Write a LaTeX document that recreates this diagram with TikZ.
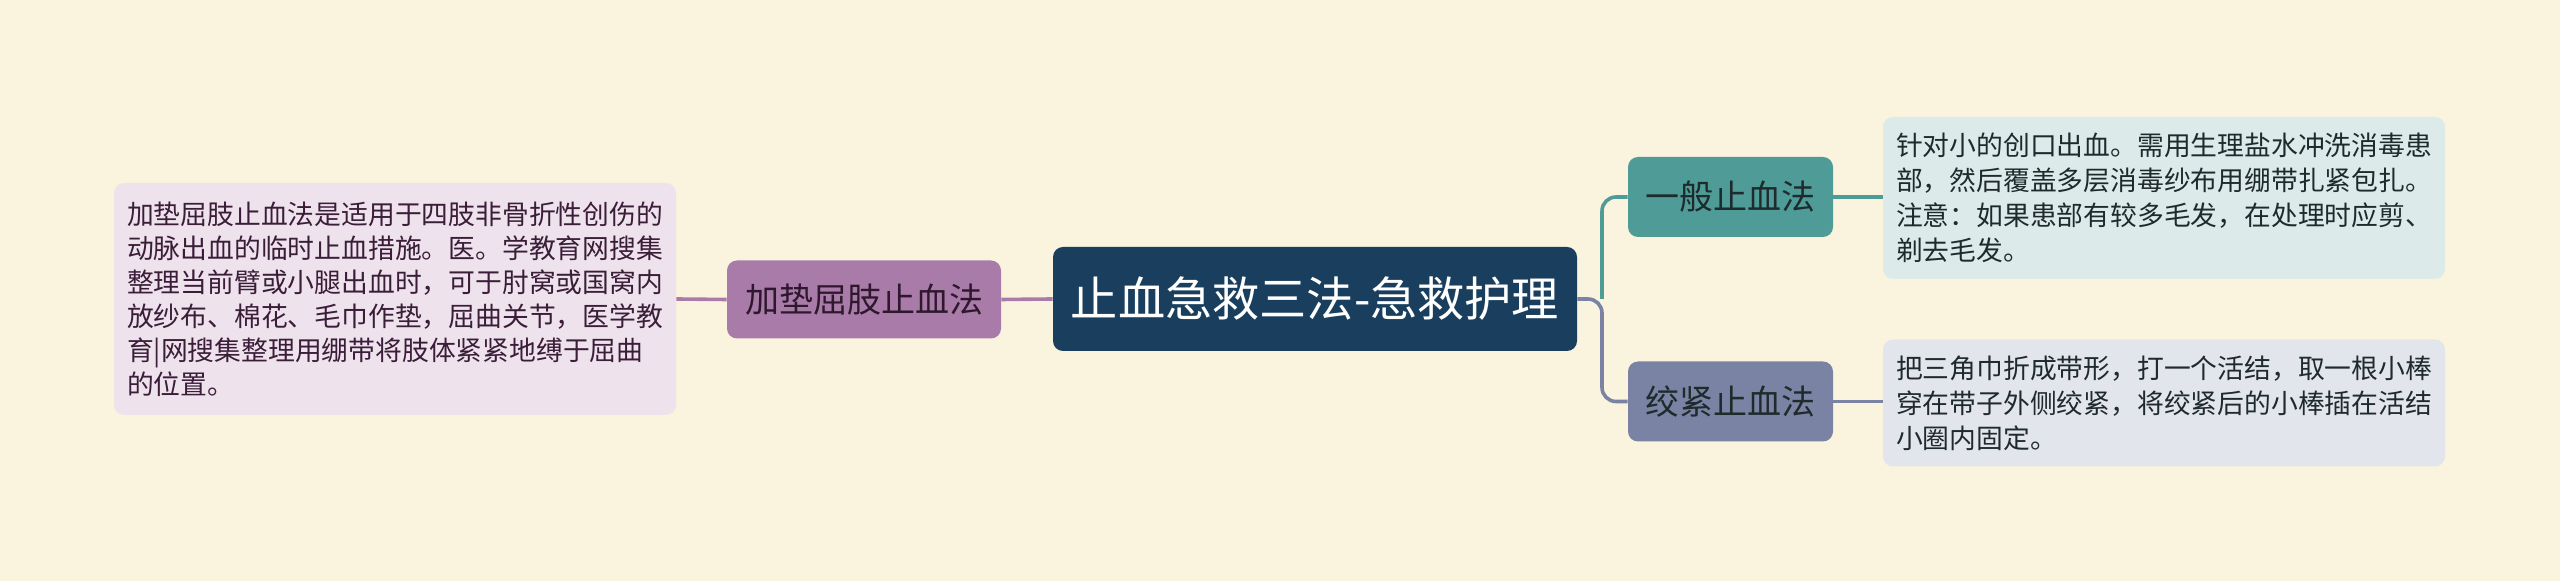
\documentclass[tikz,border=0pt]{standalone}
\usepackage{fontspec}
\newfontfamily\cjk{Noto Sans CJK SC}
\usetikzlibrary{positioning}
\definecolor{bgcream}{HTML}{FAF4DF}
\definecolor{navy}{HTML}{1A3F5E}
\definecolor{plum}{HTML}{A97BA9}
\definecolor{plumleaf}{HTML}{EEE3EC}
\definecolor{plumtext}{HTML}{3B1D39}
\definecolor{tealc}{HTML}{4E9B97}
\definecolor{tealleaf}{HTML}{DCEAE9}
\definecolor{slate}{HTML}{7A83A3}
\definecolor{slateleaf}{HTML}{E2E5EC}
\definecolor{leaftext}{HTML}{1F2A2C}
\tikzset{
  rootbox/.style={fill=navy,text=white,rounded corners=5pt,inner sep=0pt,
    minimum width=262pt,minimum height=52pt,font=\cjk\fontsize{23.6pt}{28pt}\selectfont},
  midbox/.style={rounded corners=5pt,inner sep=0pt,minimum height=39pt,
    font=\cjk\fontsize{17pt}{20pt}\selectfont},
  leafbox/.style={rounded corners=5pt,align=left,inner ysep=0pt,inner xsep=6.5pt,text width=268pt}
  ,link/.style={line width=1.8pt}
}
\begin{document}
\begin{tikzpicture}[x=0.5pt,y=-0.5pt]
  \fill[bgcream] (0,0) rectangle (2560,581);
  \useasboundingbox (0,0) rectangle (2560,581);
  % centre
  \node[rootbox] (main) at (1315,299) {止血急救三法-急救护理};
  % left branch
  \node[midbox,fill=plum,text=plumtext!80!black,minimum width=137pt] (jiadian) at (864,299.5) {加垫屈肢止血法};
  \node[leafbox,fill=plumleaf,text=plumtext,minimum height=116pt,
    font=\cjk\fontsize{13.4pt}{17pt}\selectfont] (jiadianleaf) at (395,299) {加垫屈肢止血法是适用于四肢非骨折性创伤的\\
动脉出血的临时止血措施。医。学教育网搜集\\
整理当前臂或小腿出血时，可于肘窝或国窝内\\
放纱布、棉花、毛巾作垫，屈曲关节，医学教\\
育|网搜集整理用绷带将肢体紧紧地缚于屈曲\\
的位置。};
  % right branches
  \node[midbox,fill=tealc,text=leaftext,minimum width=102.5pt,minimum height=40pt] (yiban) at (1730.5,197) {一般止血法};
  \node[midbox,fill=slate,text=leaftext,minimum width=102.5pt,minimum height=40pt] (jiaojin) at (1730.5,401.5) {绞紧止血法};
  \node[leafbox,fill=tealleaf,text=leaftext,minimum height=81pt,
    font=\cjk\fontsize{13.4pt}{17.5pt}\selectfont] (yibanleaf) at (2164,198) {针对小的创口出血。需用生理盐水冲洗消毒患\\
部，然后覆盖多层消毒纱布用绷带扎紧包扎。\\
注意：如果患部有较多毛发，在处理时应剪、\\
剃去毛发。};
  \node[leafbox,fill=slateleaf,text=leaftext,minimum height=63.5pt,
    font=\cjk\fontsize{13.4pt}{17.5pt}\selectfont] (jiaojinleaf) at (2164,403) {把三角巾折成带形，打一个活结，取一根小棒\\
穿在带子外侧绞紧，将绞紧后的小棒插在活结\\
小圈内固定。};
  % connectors
  \coordinate (fork) at (1602,299);
  \draw[link,plum] (main.west) -- (jiadian.east);
  \draw[link,plum] (jiadian.west) -- (jiadianleaf.east);
  \draw[link,tealc,rounded corners=7pt] (fork) |- (yiban.west);
  \draw[link,slate,rounded corners=7pt] (main.east) -- (fork) |- (jiaojin.west);
  \draw[link,tealc] (yiban.east) -- (yiban.east -| yibanleaf.west);
  \draw[link,slate] (jiaojin.east) -- (jiaojin.east -| jiaojinleaf.west);
\end{tikzpicture}
\end{document}
